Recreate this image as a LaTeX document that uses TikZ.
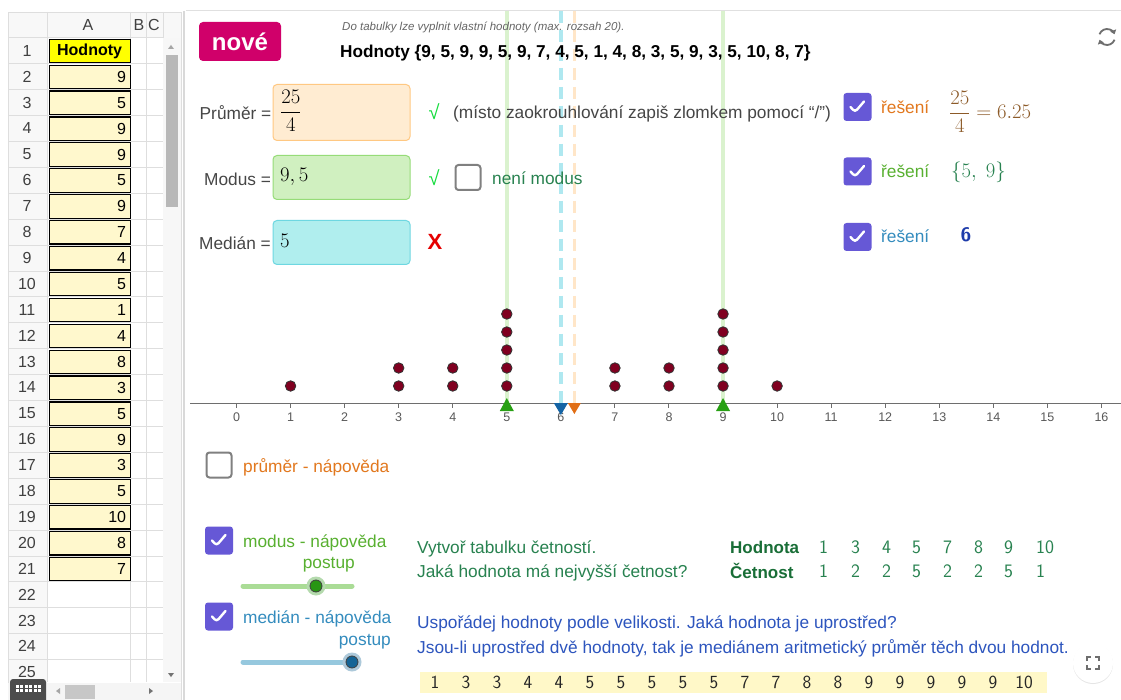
\documentclass[tikz,border=0pt]{standalone}
\usepackage{fontspec}
\newfontfamily\ui{Liberation Sans}
\usetikzlibrary{arrows.meta,calc,shadows}
\definecolor{txt}{RGB}{70,70,70}
\definecolor{nove}{RGB}{208,0,106}
\definecolor{cbpurple}{RGB}{102,88,214}
\definecolor{orangetxt}{RGB}{226,120,30}
\definecolor{brownmath}{RGB}{140,90,40}
\definecolor{greentxt}{RGB}{88,176,48}
\definecolor{dkgreen}{RGB}{40,130,80}
\definecolor{tabgreen}{RGB}{25,110,55}
\definecolor{bluetxt}{RGB}{52,140,190}
\definecolor{dkblue}{RGB}{30,60,170}
\definecolor{hintblue}{RGB}{45,85,190}
\definecolor{dotred}{RGB}{128,0,32}
\definecolor{cellyel}{RGB}{255,248,205}
\definecolor{hdryel}{RGB}{255,255,0}
\definecolor{ssgrid}{RGB}{222,222,222}
\definecolor{sshead}{RGB}{248,248,248}
\definecolor{pfill}{RGB}{255,236,210}
\definecolor{pdraw}{RGB}{255,200,130}
\definecolor{mfill}{RGB}{208,240,192}
\definecolor{mdraw}{RGB}{150,220,120}
\definecolor{dfill}{RGB}{176,238,238}
\definecolor{ddraw}{RGB}{110,215,225}
\definecolor{vgreen}{RGB}{218,242,206}
\definecolor{vcyan}{RGB}{175,232,240}
\definecolor{vorange}{RGB}{255,230,200}
\definecolor{trigreen}{RGB}{40,160,20}
\definecolor{triblue}{RGB}{20,100,165}
\definecolor{triorange}{RGB}{225,110,20}
\definecolor{axisc}{RGB}{110,110,110}
\definecolor{sortyel}{RGB}{255,248,200}
\definecolor{okgreen}{RGB}{20,220,60}
\definecolor{trk1}{RGB}{170,220,150}
\definecolor{hnd1}{RGB}{40,150,20}
\definecolor{trk2}{RGB}{150,200,222}
\definecolor{hnd2}{RGB}{20,100,150}
\definecolor{icon}{RGB}{110,110,110}
\tikzset{
  t/.style={inner sep=0pt, anchor=base west, font=\ui\fontsize{17.3}{20}\selectfont, text=txt},
  mth/.style={inner sep=0pt, font=\fontsize{21.5}{25}\selectfont},
  cbon/.style={fill=cbpurple, rounded corners=3pt, minimum size=28pt, inner sep=0pt,
     path picture={\draw[white, line width=2.4pt, line cap=round, line join=round]
        ([shift={(-7pt,0pt)}]path picture bounding box.center) -- ++(4.5pt,-5pt) -- ++(9pt,10.5pt);}},
  cboff/.style={draw=black!50, line width=2pt, rounded corners=3pt, minimum size=25pt, fill=white, inner sep=0pt},
  inbox/.style={rounded corners=4pt, line width=1pt},
  dot/.style={circle, fill=dotred, draw=black!80, line width=0.8pt, minimum size=10.5pt, inner sep=0pt},
  tick/.style={inner sep=0pt, anchor=base, font=\ui\fontsize{12.5}{15}\selectfont, text=black!65},
  cell/.style={draw=black, line width=1.2pt, fill=cellyel, minimum height=23.5pt, text width=73pt, align=right, inner sep=4pt, anchor=north west, font=\ui\fontsize{16}{19}\selectfont},
  rown/.style={inner sep=0pt, font=\ui\fontsize{16}{19}\selectfont, text=black!75},
  tabn/.style={inner sep=0pt, anchor=base west, font=\sffamily\fontsize{19}{22}\selectfont, text=dkgreen},
  sortn/.style={inner sep=0pt, anchor=base, font=\sffamily\fontsize{18.5}{22}\selectfont, text=black!85},
  ok/.style={inner sep=0pt, font=\ui\fontsize{20}{24}\selectfont, text=okgreen},
}
\begin{document}
\begin{tikzpicture}[x=1pt,y=-1pt]
\useasboundingbox (0,0) rectangle (1121,700);
\fill[white] (0,0) rectangle (1121,700);
\def\xo{236.5}\def\ux{54.06}
% ---------- spreadsheet ----------
\fill[sshead] (8,12) rectangle (181,37.7);
\fill[sshead] (8,37.7) rectangle (47,700);
\draw[ssgrid] (8,12) rectangle (181,700);
\foreach \xx in {47,130,146,163} \draw[ssgrid] (\xx,12) -- (\xx,682);
\foreach \i in {0,...,25} \draw[ssgrid] (8,{37.7+25.9*\i}) -- (163,{37.7+25.9*\i});
\node[rown] (hA) at (88,25) {A};
\node[rown] (hB) at (139,25) {B};
\node[rown] (hC) at (154,25) {C};
\foreach \i in {1,...,25} \node[rown] (n\i) at (27,{37.7+25.9*(\i-1)+13}) {\i};
\node[cell, fill=hdryel, align=center, font=\ui\bfseries\fontsize{16}{19}\selectfont] (a1) at (48.5,38.7) {Hodnoty};
\foreach \v [count=\i from 2] in {9,5,9,9,5,9,7,4,5,1,4,8,3,5,9,3,5,10,8,7}
  \node[cell] (a\i) at (48.5,{37.7+25.9*(\i-1)+1}) {\v};
% vertical scrollbar
\fill[black!3] (163,38) rectangle (181,682);
\fill[black!28] (165.5,55) rectangle (177.5,207);
\fill[black!35] (168,49) -- (174,49) -- (171,45) -- cycle;
\fill[black!55] (168,673) -- (174,673) -- (171,677) -- cycle;
% horizontal scrollbar
\fill[black!4] (8,683) rectangle (181,700);
\fill[black!22] (65,685) rectangle (95,699);
\fill[black!35] (60,688) -- (60,694) -- (56,691) -- cycle;
\fill[black!55] (149,688) -- (149,694) -- (153,691) -- cycle;
\fill[black!70, rounded corners=3pt] (10,679) rectangle (46,704);
\foreach \i in {0,...,5} \foreach \j in {0,1} \fill[white] ({15.5+\i*4.5},{684.5+\j*4.5}) rectangle ++(3,3);
\draw[black!15, line width=1.5pt] (184,11) -- (184,700);
\draw[black!12, line width=1.5pt] (186,10.5) -- (1121,10.5);
% ---------- guide lines ----------
\coordinate (g5t) at ({\xo+\ux*5},11); \coordinate (g5b) at ({\xo+\ux*5},403);
\coordinate (g9t) at ({\xo+\ux*9},11); \coordinate (g9b) at ({\xo+\ux*9},403);
\coordinate (mdt) at ({\xo+\ux*6},11); \coordinate (mdb) at ({\xo+\ux*6},403);
\coordinate (mnt) at ({\xo+\ux*6.25},11); \coordinate (mnb) at ({\xo+\ux*6.25},403);
\draw[vgreen, line width=4pt] (g5t) -- (g5b);
\draw[vgreen, line width=4pt] (g9t) -- (g9b);
\draw[vcyan, line width=4pt, dash pattern=on 12pt off 7pt] (mdt) -- (mdb);
\draw[vorange, line width=3pt, dash pattern=on 12pt off 7pt] (mnt) -- (mnb);
% ---------- header ----------
\node[fill=nove, rounded corners=4pt, minimum width=82pt, minimum height=39pt, inner sep=0pt,
      text=white, font=\ui\bfseries\fontsize{24}{28}\selectfont] (nove) at (240,41.5) {nové};
\node[t, font=\ui\itshape\fontsize{11.5}{14}\selectfont, text=black!60] (info) at (342,31) {Do tabulky lze vyplnit vlastní hodnoty (max. rozsah 20).};
\node[t, font=\ui\bfseries\fontsize{17.2}{20}\selectfont, text=black] (hod) at (340,58) {Hodnoty \{9, 5, 9, 9, 5, 9, 7, 4, 5, 1, 4, 8, 3, 5, 9, 3, 5, 10, 8, 7\}};
\coordinate (rf) at (1107,37);
\draw[icon, line width=1.8pt, -{Triangle[length=4pt,width=6pt]}] ([shift={(160:8pt)}]rf) arc[start angle=160, end angle=20, radius=8pt];
\draw[icon, line width=1.8pt, -{Triangle[length=4pt,width=6pt]}] ([shift={(-20:8pt)}]rf) arc[start angle=-20, end angle=-160, radius=8pt];
% ---------- prumer ----------
\node[t] (lp) at (199.5,120) {Průměr =};
\node[inbox, fill=pfill, draw=pdraw, minimum width=137pt, minimum height=56pt, anchor=north west] (bp) at (272.5,84) {};
\node[mth, anchor=west] (vp) at (280,111) {$\displaystyle\frac{25}{4}$};
\node[ok] (okp) at (434,112) {√};
\node[t] (np) at (453,119) {(místo zaokrouhlování zapiš zlomkem pomocí “/”)};
\node[cbon] (cb1) at (857.5,107) {};
\node[t, text=orangetxt] (rp) at (881,114) {řešení};
\node[mth, anchor=west, text=brownmath] (sp) at (949,112) {$\displaystyle\frac{25}{4}=6.25$};
% ---------- modus ----------
\node[t] (lm) at (204,186) {Modus =};
\node[inbox, fill=mfill, draw=mdraw, minimum width=137pt, minimum height=44pt, anchor=north west] (bm) at (272.5,155) {};
\node[mth, anchor=base west] (vm) at (280,182) {$9,5$};
\node[ok] (okm) at (434,178) {√};
\node[cboff] (cbn) at (468,177.5) {};
\node[t, text=dkgreen] (nm) at (492,185) {není modus};
\node[cbon] (cb2) at (857.5,171.5) {};
\node[t, text=greentxt] (rm) at (881,178) {řešení};
\node[mth, anchor=base west, text=dkgreen] (sm) at (951,178) {$\{5,\;9\}$};
% ---------- median ----------
\node[t] (ld) at (199,250) {Medián =};
\node[inbox, fill=dfill, draw=ddraw, minimum width=137pt, minimum height=44pt, anchor=north west] (bd) at (272.5,220) {};
\node[mth, anchor=base west] (vd) at (280,248) {$5$};
\node[inner sep=0pt, font=\ui\bfseries\fontsize{22}{26}\selectfont, text=red!90!black] (xd) at (435,242) {X};
\node[cbon] (cb3) at (857.5,237) {};
\node[t, text=bluetxt] (rd) at (881,243) {řešení};
\node[inner sep=0pt, anchor=base west, font=\sffamily\bfseries\fontsize{19.5}{23}\selectfont, text=dkblue] (sd) at (960.5,242) {6};
% ---------- dot plot ----------
\coordinate (axL) at (190,403.5); \coordinate (axR) at (1121,403.5);
\draw[axisc, line width=1.3pt] (axL) -- (axR);
\foreach \v in {0,...,16} {
  \draw[axisc, line width=1pt] ({\xo+\ux*\v},403.5) -- ({\xo+\ux*\v},408);
  \node[tick] (tk\v) at ({\xo+\ux*\v},421) {\v};
}
\foreach \v/\n in {1/1,3/2,4/2,5/5,7/2,8/2,9/5,10/1}
  \foreach \k in {1,...,\n}
    \node[dot] (d\v-\k) at ({\xo+\ux*\v},{404-18*\k}) {};
\fill[trigreen] ({\xo+\ux*5},398) -- ++(7,13) -- ++(-14,0) -- cycle;
\fill[trigreen] ({\xo+\ux*9},398) -- ++(7,13) -- ++(-14,0) -- cycle;
\fill[triblue] ({\xo+\ux*6-7},403) -- ++(14,0) -- ++(-7,12) -- cycle;
\fill[triorange] ({\xo+\ux*6.25-6.5},403) -- ++(13,0) -- ++(-6.5,11) -- cycle;
% ---------- hints ----------
\node[cboff] (cbp) at (219,465) {};
\node[t, text=orangetxt] (hp) at (243,472) {průměr - nápověda};
\node[cbon] (cbm) at (219,540.5) {};
\node[t, text=greentxt] (hm) at (243,547) {modus - nápověda};
\node[t, anchor=base east, text=greentxt] (pm) at (355,568) {postup};
\coordinate (s1a) at (243,586); \coordinate (s1b) at (352,586);
\draw[trk1, line width=5pt, line cap=round] (s1a) -- (s1b);
\node[circle, fill=hnd1!35, minimum size=19pt, inner sep=0pt] (h1o) at (316,586) {};
\node[circle, fill=hnd1, draw=black!75, line width=0.8pt, minimum size=12pt, inner sep=0pt] (h1) at (316,586) {};
\node[cbon] (cbd) at (219,616.5) {};
\node[t, text=bluetxt] (hd) at (243,623) {medián - nápověda};
\node[t, anchor=base east, text=bluetxt] (pd) at (391,645) {postup};
\coordinate (s2a) at (243,662); \coordinate (s2b) at (356,662);
\draw[trk2, line width=5pt, line cap=round] (s2a) -- (s2b);
\node[circle, fill=hnd2!35, minimum size=19pt, inner sep=0pt] (h2o) at (352,662) {};
\node[circle, fill=hnd2, draw=black!75, line width=0.8pt, minimum size=12pt, inner sep=0pt] (h2) at (352,662) {};
\node[t, text=dkgreen] (q1) at (417,553) {Vytvoř tabulku četností.};
\node[t, text=dkgreen] (q2) at (417,577) {Jaká hodnota má nejvyšší četnost?};
\node[t, font=\ui\bfseries\fontsize{17}{20}\selectfont, text=tabgreen] (thh) at (730,553) {Hodnota};
\node[t, font=\ui\bfseries\fontsize{17}{20}\selectfont, text=tabgreen] (thc) at (730,578) {Četnost};
\foreach \x/\a/\b [count=\i] in {819/1/1,851/3/2,882/4/2,912/5/5,943/7/2,974/8/2,1004/9/5,1036/10/1} {
  \node[tabn] (hv\i) at (\x,553) {\a};
  \node[tabn] (cv\i) at (\x,577) {\b};
}
\node[t, text=hintblue] (u1) at (417,628) {Uspořádej hodnoty podle velikosti. Jaká hodnota je uprostřed?};
\node[t, text=hintblue] (u2) at (417,653) {Jsou-li uprostřed dvě hodnoty, tak je mediánem aritmetický průměr těch dvou hodnot.};
\fill[sortyel] (420,672) rectangle (1047,693);
\foreach \v [count=\i from 0] in {1,3,3,4,4,5,5,5,5,5,7,7,8,8,9,9,9,9,9,10}
  \node[sortn] (so\i) at ({435+31*\i},688) {\v};
% fullscreen button
\node[circle, fill=white, minimum size=40pt, drop shadow={opacity=0.2, shadow xshift=0pt, shadow yshift=-1pt}] (fs) at (1093,663) {};
\foreach \sx/\sy in {1/1,1/-1,-1/1,-1/-1}
  \draw[icon, line width=1.6pt] ($(fs.center)+({6*\sx},{6*\sy-4*\sy})$) -- ($(fs.center)+({6*\sx},{6*\sy})$) -- ($(fs.center)+({6*\sx-4*\sx},{6*\sy})$);
\end{tikzpicture}
\end{document}
